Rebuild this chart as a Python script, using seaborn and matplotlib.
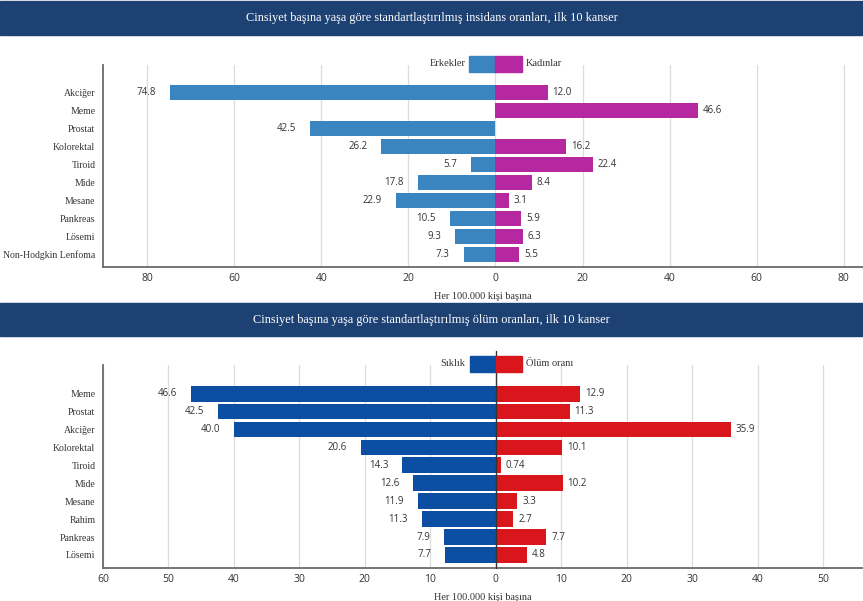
import matplotlib
matplotlib.use("Agg")
import matplotlib.pyplot as plt
import seaborn as sns
import pandas as pd
from matplotlib.patches import Rectangle
import matplotlib.transforms as mtransforms

# ---------------- data ----------------
title1 = "Cinsiyet başına yaşa göre standartlaştırılmış insidans oranları, ilk 10 kanser"
cats1 = ["Akciğer", "Meme", "Prostat", "Kolorektal", "Tiroid", "Mide", "Mesane",
         "Pankreas", "Lösemi", "Non-Hodgkin Lenfoma"]
men1 = [74.8, 0, 42.5, 26.2, 5.7, 17.8, 22.9, 10.5, 9.3, 7.3]
women1 = [12.0, 46.6, 0, 16.2, 22.4, 8.4, 3.1, 5.9, 6.3, 5.5]
series1 = ["Erkekler", "Kadınlar"]
ticks1 = [-80, -60, -40, -20, 0, 20, 40, 60, 80]

title2 = "Cinsiyet başına yaşa göre standartlaştırılmış ölüm oranları, ilk 10 kanser"
cats2 = ["Meme", "Prostat", "Akciğer", "Kolorektal", "Tiroid", "Mide", "Mesane",
         "Rahim", "Pankreas", "Lösemi"]
freq2 = [46.6, 42.5, 40.0, 20.6, 14.3, 12.6, 11.9, 11.3, 7.9, 7.7]
death2 = [12.9, 11.3, 35.9, 10.1, 0.74, 10.2, 3.3, 2.7, 7.7, 4.8]
series2 = ["Sıklık", "Ölüm oranı"]
ticks2 = [-60, -50, -40, -30, -20, -10, 0, 10, 20, 30, 40, 50]

xlabel = "Her 100.000 kişi başına"

# ---------------- style ----------------
sns.set_style("white")
SERIF = ["Liberation Serif", "DejaVu Serif"]
SANS = ["Open Sans", "DejaVu Sans"]
plt.rcParams["font.family"] = SERIF
BANNER = "#1e4174"
TXT = "#333333"

fig = plt.figure(figsize=(8.63, 6.01), dpi=100)


def fmt(v):
    if v == 0:
        return ""
    return f"{v:.2f}" if v < 1 else f"{v:.1f}"


def banner(y0, h, text):
    fig.patches.append(Rectangle((0, y0), 1, h, transform=fig.transFigure,
                                 color=BANNER, zorder=0))
    fig.text(0.5, y0 + h / 2, text, color="white", ha="center", va="center",
             fontsize=8.8, family=SERIF)


def panel(rect, cats, left, right, names, colors, ticks, xlim, ylim, width,
          sw, zero_line):
    ax = fig.add_axes(rect)
    df = pd.DataFrame({
        "cat": cats * 2,
        "val": [-v for v in left] + list(right),
        "grp": [names[0]] * len(cats) + [names[1]] * len(cats),
    })
    sns.barplot(data=df, x="val", y="cat", hue="grp", order=cats,
                hue_order=names, palette=dict(zip(names, colors)),
                dodge=False, orient="h", width=width, legend=False,
                linewidth=0, saturation=1, ax=ax, zorder=3)
    c_left, c_right = ax.containers[0], ax.containers[1]
    ax.bar_label(c_left, labels=[fmt(v) for v in left], padding=10,
                 fontsize=7, color=TXT, family=SANS)
    ax.bar_label(c_right, labels=[fmt(v) for v in right], padding=3.5,
                 fontsize=7, color=TXT, family=SANS)

    ax.set_xlim(*xlim)
    ax.set_ylim(*ylim)
    ax.set_xticks(ticks)
    ax.set_xticklabels([str(abs(t)) for t in ticks], family=SANS,
                       fontsize=7.5, color=TXT)
    ax.tick_params(axis="x", length=0, pad=4)
    ax.tick_params(axis="y", length=0, pad=5.5, labelsize=7.0, labelcolor=TXT)
    for lab in ax.get_yticklabels():
        lab.set_family(SERIF)
    ax.set_ylabel("")
    ax.set_xlabel(xlabel, fontsize=7.4, color=TXT, family=SERIF, labelpad=6)
    ax.grid(axis="x", color="#dcdcdc", lw=0.9, zorder=0)
    ax.grid(axis="y", visible=False)
    for s in ["top", "right"]:
        ax.spines[s].set_visible(False)
    for s in ["left", "bottom"]:
        ax.spines[s].set_color("#6a6a6a")
        ax.spines[s].set_linewidth(1.3)

    if zero_line:
        ax.axvline(0, ymin=0, ymax=1.07, color="#333333", lw=1.0,
                   zorder=4, clip_on=False)
    else:
        ax.set_xticks([0], minor=True)
        ax.tick_params(axis="x", which="minor", length=3, width=0.8,
                       color="#555555")

    # legend swatches straddling zero
    tr = mtransforms.blended_transform_factory(ax.transData, ax.transAxes)
    ax.add_patch(Rectangle((-sw, 0.965), sw, 0.08, transform=tr,
                           color=colors[0], clip_on=False, zorder=5))
    ax.add_patch(Rectangle((0, 0.965), sw, 0.08, transform=tr,
                           color=colors[1], clip_on=False, zorder=5))
    ax.text(-sw, 1.005, names[0], transform=mtransforms.offset_copy(
        tr, fig=fig, x=-4, y=0, units="dots"), ha="right", va="center",
        fontsize=7.5, color=TXT, family=SERIF)
    ax.text(sw, 1.005, names[1], transform=mtransforms.offset_copy(
        tr, fig=fig, x=4, y=0, units="dots"), ha="left", va="center",
        fontsize=7.5, color=TXT, family=SERIF)
    return ax


banner(1 - 35 / 601, 34 / 601, title1)
banner(1 - 336 / 601, 33 / 601, title2)

panel([103 / 863, 1 - 267 / 601, 1 - 103 / 863, 202 / 601], cats1, men1,
      women1, series1, ["#3a84c0", "#b5289f"], ticks1, (-90.1, 84.4),
      (9.72, -1.55), 0.84, 6, False)

panel([103 / 863, 1 - 568 / 601, 1 - 103 / 863, 203 / 601], cats2, freq2,
      death2, series2, ["#0c4ea1", "#d9161c"], ticks2, (-60, 56.1),
      (9.73, -1.6), 0.88, 4, True)

fig.savefig("out.png", dpi=100)
